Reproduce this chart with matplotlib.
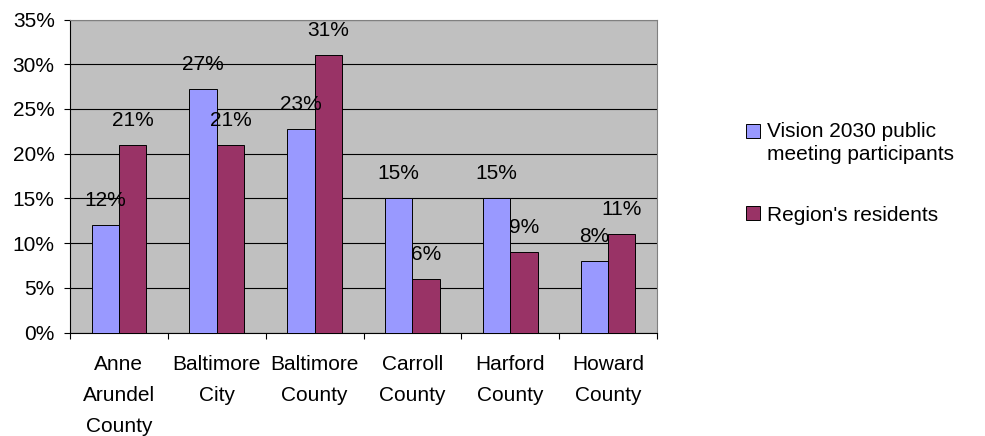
import matplotlib
matplotlib.use("Agg")
import matplotlib.pyplot as plt
import numpy as np
from matplotlib.patches import Rectangle

plt.rcParams['font.family'] = ['Liberation Sans', 'DejaVu Sans']

categories = ["Anne\nArundel\nCounty", "Baltimore\nCity", "Baltimore\nCounty",
              "Carroll\nCounty", "Harford\nCounty", "Howard\nCounty"]
participants = [12.0, 27.2, 22.7, 15.0, 15.0, 8.0]
residents = [21.0, 21.0, 31.0, 6.0, 9.0, 11.0]
series_names = ["Vision 2030 public\nmeeting participants", "Region's residents"]
y_ticks = [0, 5, 10, 15, 20, 25, 30, 35]

blue = "#9999FF"
maroon = "#993366"
plot_bg = "#C0C0C0"
FS = 15

W, H = 985, 436
fig = plt.figure(figsize=(W / 100, H / 100), dpi=100)
ax = fig.add_axes([70 / W, 1 - 332.5 / H, 587 / W, 313 / H])
ax.set_facecolor(plot_bg)

x = np.arange(len(categories))
w = 0.28
b1 = ax.bar(x - w / 2, participants, w, color=blue, edgecolor="black", linewidth=0.7, zorder=3)
b2 = ax.bar(x + w / 2, residents, w, color=maroon, edgecolor="black", linewidth=0.7, zorder=3)

for bars, vals in ((b1, participants), (b2, residents)):
    for rect, v in zip(bars, vals):
        ax.annotate(f"{v:.0f}%", (rect.get_x() + rect.get_width() / 2, v),
                    xytext=(0, 13.7), textcoords="offset points",
                    ha="center", va="baseline", fontsize=FS, zorder=5)

ax.set_xlim(-0.5, len(categories) - 0.5)
ax.set_ylim(0, 35)
ax.set_yticks(y_ticks)
ax.set_yticklabels([f"{t}%" for t in y_ticks])
ax.yaxis.grid(True, color="black", linewidth=0.8, zorder=1)
ax.set_axisbelow(True)

ax.set_xticks(x)
ax.set_xticklabels(categories, linespacing=1.8)
ax.set_xticks(np.arange(len(categories) + 1) - 0.5, minor=True)
ax.tick_params(axis="x", which="major", length=0, pad=16, labelsize=FS)
ax.tick_params(axis="x", which="minor", length=4, width=0.8, direction="out")
ax.tick_params(axis="y", length=4, width=0.8, pad=7, labelsize=FS)

for side in ("top", "right"):
    ax.spines[side].set_color("#808080")
    ax.spines[side].set_linewidth(0.8)
for side in ("left", "bottom"):
    ax.spines[side].set_color("black")
    ax.spines[side].set_linewidth(0.8)

# legend: square keys aligned with the first text line of each entry
legend_rows = [(131, blue), (213, maroon)]
for (yc, col), name in zip(legend_rows, series_names):
    fig.add_artist(Rectangle((746 / W, 1 - (yc + 7) / H), 14 / W, 14 / H,
                             transform=fig.transFigure, facecolor=col,
                             edgecolor="black", linewidth=0.7))
    if "\n" in name:
        fig.text(767 / W, 1 - (yc - 9) / H, name, fontsize=FS, ha="left",
                 va="top", linespacing=1.3)
    else:
        fig.text(767 / W, 1 - yc / H, name, fontsize=FS, ha="left",
                 va="center_baseline")

fig.savefig("out.png", dpi=100)
